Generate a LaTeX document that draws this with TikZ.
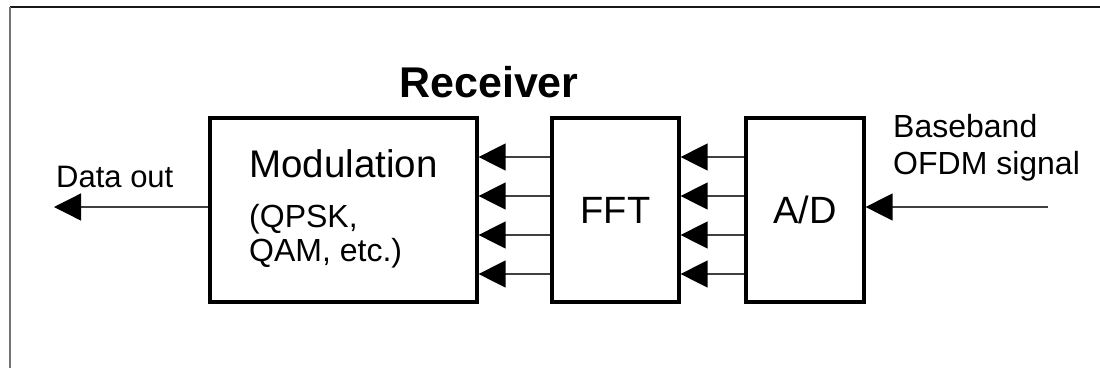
\documentclass[tikz,border=0pt]{standalone}
\usepackage{fontspec}
\setmainfont{Liberation Sans}
\usetikzlibrary{arrows.meta}

\begin{document}
\begin{tikzpicture}[x=1pt, y=-1pt,
  block/.style={draw=black, line width=3.2pt, minimum height=184pt, inner sep=0pt,
                font=\fontsize{38}{40}\selectfont},
  wire/.style={draw=black!75, line width=1.3pt,
               -{Triangle[length=27pt,width=27pt,color=black]}},
  lbl/.style={anchor=base west, inner sep=0pt, font=\fontsize{32}{34}\selectfont}
]
\useasboundingbox (0,0) rectangle (1100,368);

% page frame (top and left edges)
\draw[black!90, line width=1.5pt] (1100,7) -- (10,7);
\draw[black!55, line width=1.2pt] (10,7) -- (10,368);

% processing blocks
\node[block, minimum width=267pt] (mod) at (343.5,210) {};
\node[block, minimum width=127pt] (fft) at (615.5,210) {FFT};
\node[block, minimum width=118pt] (ad)  at (805,210)   {A/D};

% title
\node[anchor=base, inner sep=0pt, font=\bfseries\fontsize{43}{45}\selectfont]
  (title) at (489,97) {Receiver};

% text inside the modulation block
\node[lbl, font=\fontsize{38.5}{40}\selectfont] (modA) at (249,177) {Modulation};
\node[lbl] (modB) at (249,227) {(QPSK,};
\node[lbl] (modC) at (249,261) {QAM, etc.)};

% parallel sub-carrier lines
\foreach \yy [count=\i] in {157,196,235,274} {
  \coordinate (r\i) at (0,\yy);
  \draw[wire] (ad.west |- r\i) -- (fft.east |- r\i);
  \draw[wire] (fft.west |- r\i) -- (mod.east |- r\i);
}

% input and output
\coordinate (din)  at (1048,207);
\coordinate (dout) at (54,207);
\draw[wire] (din) -- (ad.east |- din);
\draw[wire] (mod.west |- dout) -- (dout);

\node[lbl, font=\fontsize{31}{33}\selectfont] (doutlbl) at (56,187) {Data out};
\node[lbl] (inA) at (893,137) {Baseband};
\node[lbl] (inB) at (893,174) {OFDM signal};
\end{tikzpicture}
\end{document}
